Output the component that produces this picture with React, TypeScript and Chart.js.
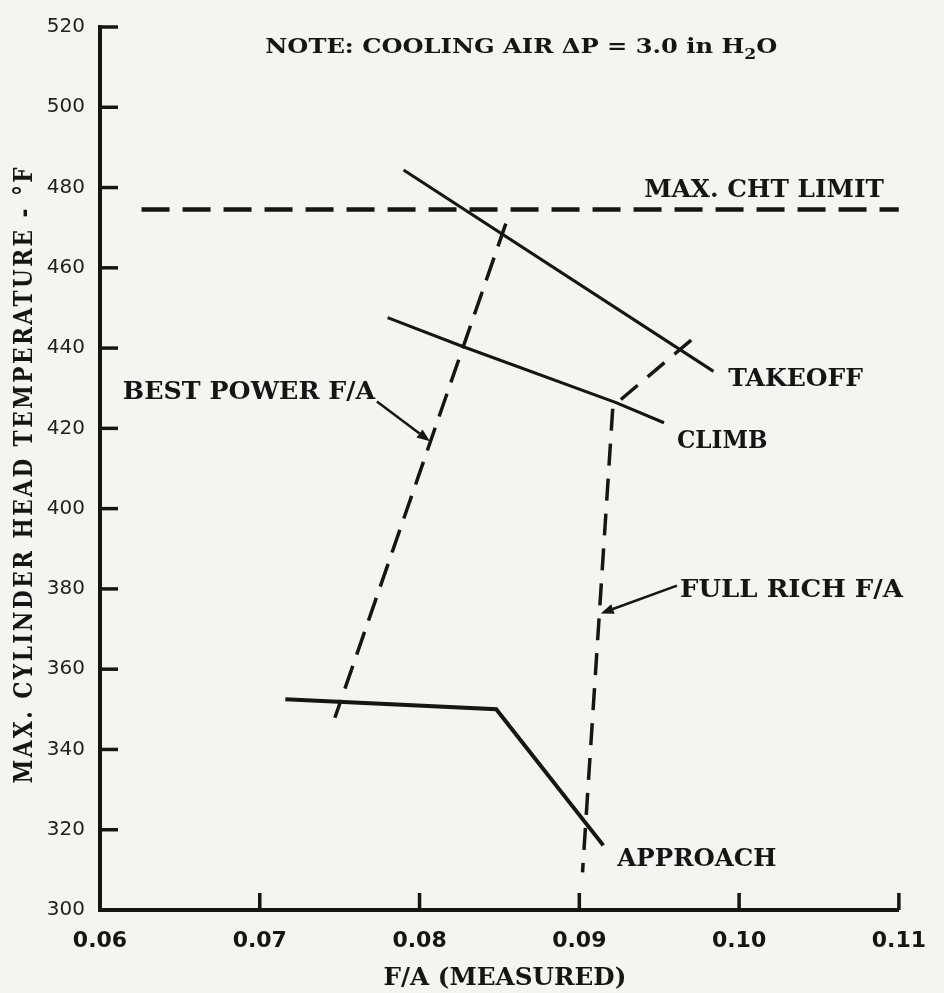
import React, { useEffect, useRef } from 'react';
import { Chart, registerables } from 'chart.js';

Chart.register(...registerables);

// ---- axis ranges ----
const X_MIN = 0.06;
const X_MAX = 0.11;
const X_STEP = 0.01;
const Y_MIN = 300;
const Y_MAX = 520;
const Y_STEP = 20;

// ---- series (F/A measured, max CHT °F) ----
const chtLimit = [
  { x: 0.0626, y: 474.5 },
  { x: 0.11, y: 474.5 },
];
const takeoff = [
  { x: 0.0790, y: 484.4 },
  { x: 0.0984, y: 434.2 },
];
const climb = [
  { x: 0.0780, y: 447.6 },
  { x: 0.0827, y: 440.4 },
  { x: 0.0923, y: 426.4 },
  { x: 0.0953, y: 421.4 },
];
const approach = [
  { x: 0.0716, y: 352.5 },
  { x: 0.0848, y: 350.0 },
  { x: 0.0915, y: 316.1 },
];
const bestPowerFA = [
  { x: 0.0854, y: 471.0 },
  { x: 0.0747, y: 347.9 },
];
const fullRichFA = [
  { x: 0.0970, y: 442.0 },
  { x: 0.0921, y: 425.5 },
  { x: 0.0902, y: 309.4 },
];

// ---- annotation texts (anchored in data units: left x, right x, baseline y) ----
const curveLabels = [
  { text: 'MAX. CHT LIMIT', x1: 0.09406, x2: 0.10907, y: 477.6 },
  { text: 'TAKEOFF', x1: 0.09932, x2: 0.10776, y: 430.6 },
  { text: 'BEST POWER F/A', x1: 0.06143, x2: 0.07722, y: 427.3 },
  { text: 'CLIMB', x1: 0.09611, x2: 0.10178, y: 415.0 },
  { text: 'FULL RICH F/A', x1: 0.09630, x2: 0.11025, y: 378.0 },
  { text: 'APPROACH', x1: 0.09238, x2: 0.10234, y: 310.9 },
];
const arrows = [
  { fx: 0.07733, fy: 426.7, tx: 0.08065, ty: 416.8 },
  { fx: 0.09611, fy: 380.8, tx: 0.09134, ty: 373.9 },
];
const noteText = ['NOTE: COOLING AIR \u0394P = 3.0 in H', '2', 'O'];
const note = { x1: 0.07034, x2: 0.10240, y: 513.6 };
const xTitle = { text: 'F/A (MEASURED)', x1: 0.07775, x2: 0.09294, y: 281.4 };
const yTitle = { text: 'MAX. CYLINDER HEAD TEMPERATURE - \u00B0F', x: 0.05577, y1: 331.5, y2: 485.6 };

const INK = '#151515';
const PAPER = '#f4f4f1';
const LABEL_FONT = 'bold 24px "DejaVu Serif", serif';

function fitText(ctx: CanvasRenderingContext2D, text: string, x: number, y: number, w: number, font: string, spacing = '0px') {
  ctx.font = font;
  (ctx as any).letterSpacing = spacing;
  const m = ctx.measureText(text).width;
  ctx.save();
  ctx.translate(x, y);
  ctx.scale(w / m, 1);
  ctx.fillText(text, 0, 0);
  ctx.restore();
  (ctx as any).letterSpacing = '0px';
}

const annotPlugin = {
  id: 'annot',
  beforeDraw(chart: any) {
    const ctx = chart.ctx as CanvasRenderingContext2D;
    ctx.save();
    ctx.fillStyle = PAPER;
    ctx.fillRect(0, 0, chart.width, chart.height);
    ctx.restore();
  },
  afterDraw(chart: any) {
    const ctx = chart.ctx as CanvasRenderingContext2D;
    const xs = chart.scales.x;
    const ys = chart.scales.y;
    const area = chart.chartArea;
    ctx.save();
    ctx.strokeStyle = INK;
    ctx.fillStyle = INK;
    ctx.lineCap = 'butt';

    // inward tick marks
    ctx.lineWidth = 3.5;
    ys.ticks.forEach((t: any) => {
      if (Math.abs(t.value - Y_MIN) < 1e-9) return;
      const py = ys.getPixelForValue(t.value);
      ctx.beginPath();
      ctx.moveTo(area.left, py);
      ctx.lineTo(area.left + 18, py);
      ctx.stroke();
    });
    xs.ticks.forEach((t: any) => {
      if (Math.abs(t.value - X_MIN) < 1e-9) return;
      const px = xs.getPixelForValue(t.value);
      ctx.beginPath();
      ctx.moveTo(px, area.bottom);
      ctx.lineTo(px, area.bottom - 17);
      ctx.stroke();
    });

    // curve labels
    ctx.textAlign = 'left';
    ctx.textBaseline = 'alphabetic';
    curveLabels.forEach((l) => {
      const x1 = xs.getPixelForValue(l.x1);
      const x2 = xs.getPixelForValue(l.x2);
      fitText(ctx, l.text, x1, ys.getPixelForValue(l.y), x2 - x1, LABEL_FONT);
    });

    // arrows
    ctx.lineWidth = 2.5;
    arrows.forEach((a) => {
      const x0 = xs.getPixelForValue(a.fx);
      const y0 = ys.getPixelForValue(a.fy);
      const x1 = xs.getPixelForValue(a.tx);
      const y1 = ys.getPixelForValue(a.ty);
      const ang = Math.atan2(y1 - y0, x1 - x0);
      const hl = 13;
      const hw = 5;
      const bx = x1 - hl * Math.cos(ang);
      const by = y1 - hl * Math.sin(ang);
      ctx.beginPath();
      ctx.moveTo(x0, y0);
      ctx.lineTo(bx, by);
      ctx.stroke();
      ctx.beginPath();
      ctx.moveTo(x1, y1);
      ctx.lineTo(bx + hw * Math.sin(ang), by - hw * Math.cos(ang));
      ctx.lineTo(bx - hw * Math.sin(ang), by + hw * Math.cos(ang));
      ctx.closePath();
      ctx.fill();
    });

    // note with subscript
    {
      const big = 'bold 21px "DejaVu Serif", serif';
      const small = 'bold 15px "DejaVu Serif", serif';
      ctx.font = big;
      const w0 = ctx.measureText(noteText[0]).width;
      const w2 = ctx.measureText(noteText[2]).width;
      ctx.font = small;
      const w1 = ctx.measureText(noteText[1]).width;
      const x1 = xs.getPixelForValue(note.x1);
      const x2 = xs.getPixelForValue(note.x2);
      const base = ys.getPixelForValue(note.y);
      const s = (x2 - x1) / (w0 + w1 + w2);
      ctx.save();
      ctx.translate(x1, base);
      ctx.scale(s, 1);
      ctx.font = big;
      ctx.fillText(noteText[0], 0, 0);
      ctx.font = small;
      ctx.fillText(noteText[1], w0, 6);
      ctx.font = big;
      ctx.fillText(noteText[2], w0 + w1, 0);
      ctx.restore();
    }

    // x-axis title
    {
      const x1 = xs.getPixelForValue(xTitle.x1);
      const x2 = xs.getPixelForValue(xTitle.x2);
      fitText(ctx, xTitle.text, x1, ys.getPixelForValue(xTitle.y), x2 - x1, LABEL_FONT);
    }

    // y-axis title (rotated)
    {
      const px = xs.getPixelForValue(yTitle.x);
      const yb = ys.getPixelForValue(yTitle.y1);
      const yt = ys.getPixelForValue(yTitle.y2);
      ctx.save();
      ctx.translate(px, yb);
      ctx.rotate(-Math.PI / 2);
      fitText(ctx, yTitle.text, 0, 0, yb - yt, 'bold 26px "DejaVu Serif", serif', '3px');
      ctx.restore();
    }
    ctx.restore();
  },
};

function series(data: { x: number; y: number }[], width: number, dash: number[] = []) {
  return {
    data,
    showLine: true,
    borderColor: INK,
    backgroundColor: INK,
    borderWidth: width,
    borderDash: dash,
    borderCapStyle: 'butt' as const,
    pointRadius: 0,
    pointHoverRadius: 0,
    tension: 0,
  };
}

export default function App() {
  const ref = useRef<HTMLCanvasElement>(null);
  useEffect(() => {
    const canvas = ref.current;
    if (!canvas) return;
    const chart = new Chart(canvas, {
      type: 'scatter',
      data: {
        datasets: [
          series(chtLimit, 4.5, [28, 13]),
          series(takeoff, 3),
          series(climb, 3),
          series(approach, 4),
          series(bestPowerFA, 3.5, [24, 12]),
          series(fullRichFA, 3.5, [22, 13]),
        ],
      },
      options: {
        responsive: false,
        animation: false,
        devicePixelRatio: 1,
        events: [],
        layout: { padding: { left: 0, top: 22, right: 41, bottom: 0 } },
        plugins: {
          legend: { display: false },
          tooltip: { enabled: false },
          title: { display: false },
        },
        scales: {
          x: {
            type: 'linear',
            min: X_MIN,
            max: X_MAX,
            grid: { display: false, drawTicks: false },
            border: { display: true, width: 4, color: INK },
            ticks: {
              stepSize: X_STEP,
              padding: 18,
              color: INK,
              autoSkip: false,
              maxRotation: 0,
              font: { family: '"DejaVu Sans", sans-serif', size: 22, weight: 'bold' },
              callback: (v: any) => Number(v).toFixed(2),
            },
            afterFit: (s: any) => {
              s.height = 83;
            },
          },
          y: {
            type: 'linear',
            min: Y_MIN,
            max: Y_MAX,
            grid: { display: false, drawTicks: false },
            border: { display: true, width: 4, color: INK },
            ticks: {
              stepSize: Y_STEP,
              padding: 15,
              color: '#222',
              autoSkip: false,
              font: { family: '"DejaVu Sans", sans-serif', size: 20 },
              callback: (v: any) => String(v),
            },
            afterFit: (s: any) => {
              s.width = 100;
            },
          },
        },
      },
      plugins: [annotPlugin],
    } as any);
    return () => chart.destroy();
  }, []);
  return (
    <div style={{ position: 'absolute', left: 0, top: 0, width: 944, height: 993 }}>
      <canvas ref={ref} width={944} height={993} style={{ display: 'block' }} />
    </div>
  );
}
